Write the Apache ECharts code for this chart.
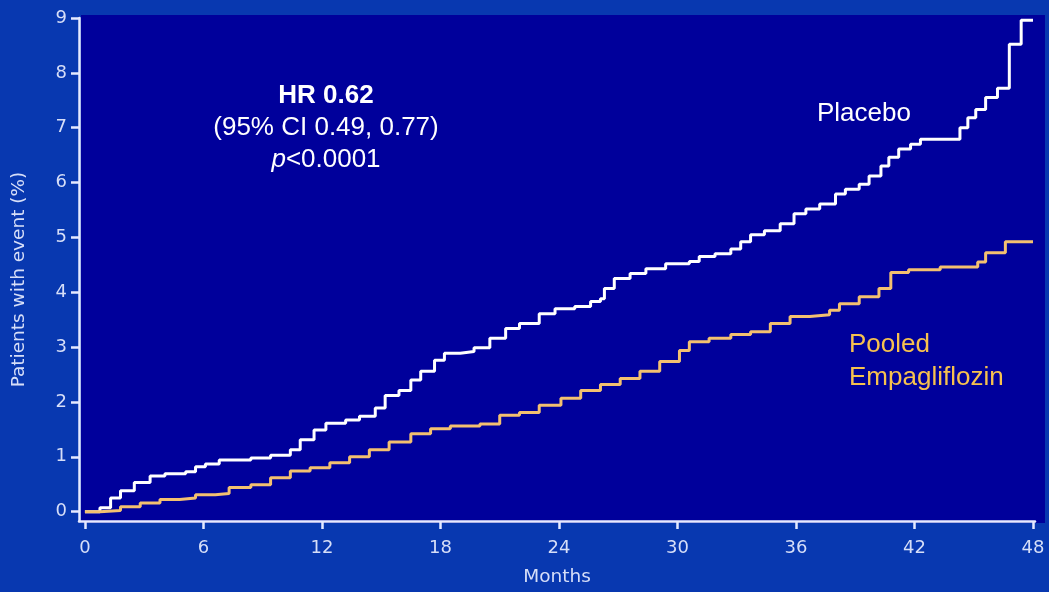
<!DOCTYPE html>
<html>
<head>
<meta charset="utf-8">
<script src="https://cdn.jsdelivr.net/npm/echarts@6/dist/echarts.min.js"></script>
<style>html,body{margin:0;padding:0;background:#0838b0;}#c{width:1049px;height:592px;}</style>
</head>
<body>
<div id="c"></div>
<script>
// Months (x) and cumulative % (y)
const placeboMonths = [0, 0.76, 1.3, 1.8, 2.5, 3.3, 4.05, 5.1, 5.6, 6.1, 6.8, 8.4, 9.4, 10.4, 10.9, 11.6, 12.2, 13.2, 13.9, 14.7, 15.2, 15.9, 16.5, 17.0, 17.7, 18.2, 19.0, 19.7, 20.5, 21.3, 22.0, 23.0, 23.8, 24.8, 25.6, 26.1, 26.3, 26.8, 27.6, 28.4, 29.4, 30.6, 31.1, 31.9, 32.7, 33.2, 33.7, 34.4, 35.2, 35.9, 36.5, 37.2, 38.0, 38.5, 39.2, 39.7, 40.3, 40.7, 41.2, 41.8, 42.3, 44.3, 44.7, 45.1, 45.6, 46.2, 46.8, 47.4, 48];
const placeboPct    = [0, 0.07, 0.25, 0.38, 0.53, 0.65, 0.69, 0.73, 0.82, 0.87, 0.94, 0.98, 1.03, 1.13, 1.31, 1.49, 1.61, 1.67, 1.74, 1.89, 2.12, 2.21, 2.40, 2.56, 2.76, 2.89, 2.92, 2.99, 3.16, 3.34, 3.43, 3.61, 3.70, 3.74, 3.83, 3.88, 4.07, 4.25, 4.34, 4.43, 4.52, 4.56, 4.65, 4.70, 4.79, 4.92, 5.05, 5.12, 5.25, 5.43, 5.52, 5.61, 5.79, 5.88, 5.97, 6.12, 6.30, 6.46, 6.61, 6.70, 6.79, 7.00, 7.18, 7.33, 7.55, 7.72, 8.52, 8.96, 8.96];
const empaMonths = [0, 0.76, 1.8, 2.8, 3.8, 4.8, 5.6, 6.6, 7.3, 8.4, 9.4, 10.4, 11.4, 12.4, 13.4, 14.4, 15.4, 16.5, 17.5, 18.5, 20.0, 21.0, 22.0, 23.0, 24.1, 25.1, 26.1, 27.1, 28.1, 29.1, 30.1, 30.6, 31.6, 32.7, 33.7, 34.7, 35.7, 36.7, 37.7, 38.2, 39.2, 40.2, 40.8, 41.7, 43.3, 45.2, 45.6, 46.6, 48];
const empaPct    = [0, 0.02, 0.09, 0.16, 0.22, 0.25, 0.31, 0.33, 0.44, 0.49, 0.62, 0.74, 0.80, 0.89, 1.00, 1.13, 1.27, 1.42, 1.51, 1.56, 1.60, 1.76, 1.81, 1.94, 2.07, 2.21, 2.32, 2.43, 2.56, 2.74, 2.94, 3.10, 3.16, 3.23, 3.28, 3.43, 3.56, 3.59, 3.67, 3.79, 3.92, 4.07, 4.36, 4.41, 4.46, 4.55, 4.72, 4.92, 4.92];
const xTicks = [0, 6, 12, 18, 24, 30, 36, 42, 48];
const yTicks = [0, 1, 2, 3, 4, 5, 6, 7, 8, 9];

const zip = (a, b) => a.map((v, i) => [v, b[i]]);
const axisCol = '#e6eaff';
const labCol = '#d6def8';
const chart = echarts.init(document.getElementById('c'));
chart.setOption({
  backgroundColor: '#0838b0',
  animation: false,
  grid: { left: 79, right: 14, top: 18, bottom: 69, show: false },
  graphic: [
    { type: 'rect', z: -10, shape: { x: 81, y: 15, width: 964, height: 508 }, style: { fill: '#00009b' } },
    { type: 'text', x: 326, y: 96, style: { text: 'HR 0.62', fill: '#ffffff', font: 'bold 26px "Liberation Sans", Arial', align: 'center', verticalAlign: 'middle' } },
    { type: 'text', x: 326, y: 128, style: { text: '(95% CI 0.49, 0.77)', fill: '#ffffff', font: '26px "Liberation Sans", Arial', align: 'center', verticalAlign: 'middle' } },
    { type: 'text', x: 326, y: 160, style: { text: '{i|p}{n|<0.0001}', fill: '#ffffff', align: 'center', verticalAlign: 'middle',
        rich: { i: { fontFamily: 'Liberation Sans', fontSize: 26, fontStyle: 'italic', fill: '#fff', color: '#fff' }, n: { fontFamily: 'Liberation Sans', fontSize: 26, color: '#fff' } } } },
    { type: 'text', x: 817, y: 114, style: { text: 'Placebo', fill: '#ffffff', font: '26px "Liberation Sans", Arial', align: 'left', verticalAlign: 'middle' } },
    { type: 'text', x: 849, y: 345, style: { text: 'Pooled', fill: '#f6c14e', font: '26px "Liberation Sans", Arial', align: 'left', verticalAlign: 'middle' } },
    { type: 'text', x: 849, y: 378, style: { text: 'Empagliflozin', fill: '#f6c14e', font: '26px "Liberation Sans", Arial', align: 'left', verticalAlign: 'middle' } }
  ],
  xAxis: {
    type: 'value', min: -0.3, max: 48.1,
    name: 'Months', nameLocation: 'middle', nameGap: 47,
    nameTextStyle: { color: labCol, fontFamily: 'DejaVu Sans', fontSize: 18.5 },
    axisLine: { show: true, onZero: false, lineStyle: { color: axisCol, width: 2.5 } },
    axisTick: { show: true, customValues: xTicks, length: 8, lineStyle: { color: axisCol, width: 2.5 } },
    axisLabel: { customValues: xTicks, color: labCol, fontFamily: 'DejaVu Sans', fontSize: 18, margin: 18 },
    splitLine: { show: false }
  },
  yAxis: {
    type: 'value', min: -0.17, max: 9,
    name: 'Patients with event (%)', nameLocation: 'middle', nameGap: 50, nameRotate: 90,
    nameTextStyle: { color: labCol, fontFamily: 'DejaVu Sans', fontSize: 18.5, padding: [0, 20, 0, 0] },
    axisLine: { show: true, onZero: false, lineStyle: { color: axisCol, width: 2.5 } },
    axisTick: { show: true, customValues: yTicks, length: 8, lineStyle: { color: axisCol, width: 2.5 } },
    axisLabel: { customValues: yTicks, color: labCol, fontFamily: 'DejaVu Sans', fontSize: 18, margin: 12 },
    splitLine: { show: false }
  },
  series: [
    { name: 'Placebo', type: 'line', step: 'end', showSymbol: false, data: zip(placeboMonths, placeboPct),
      lineStyle: { color: '#ffffff', width: 3 }, z: 3 },
    { name: 'Pooled Empagliflozin', type: 'line', step: 'end', showSymbol: false, data: zip(empaMonths, empaPct),
      lineStyle: { color: '#f3c070', width: 3 }, z: 4 }
  ]
});
</script>
</body>
</html>
